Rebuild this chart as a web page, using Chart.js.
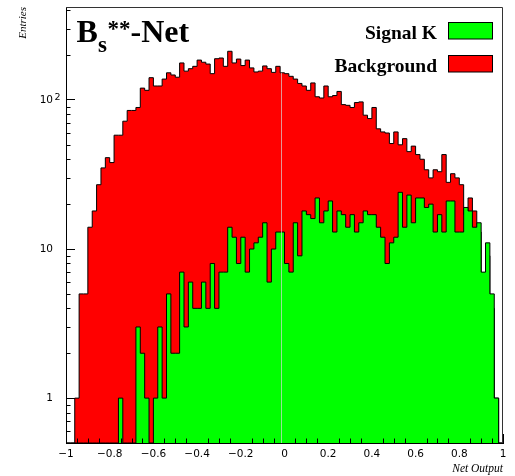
<!DOCTYPE html>
<html>
<head>
<meta charset="utf-8">
<script src="https://cdn.jsdelivr.net/npm/chart.js@4.4.1/dist/chart.umd.min.js"></script>
<style>
  html, body { margin: 0; padding: 0; background: #fff; }
</style>
</head>
<body>
<canvas id="chart" width="515" height="476"></canvas>
<script>
// 100 bins of width 0.02 from -1 to 1
const binLow = -1;
const binWidth = 0.02;

const signalK = [
  0, 0, 0, 0, 0, 0, 0, 0, 0, 0,
  0, 0, 1, 0, 0, 0, 3, 2, 1, 0,
  1, 3, 1, 5, 2, 2, 7, 3, 6, 4,
  4, 6, 4, 8, 4, 7, 7, 14, 12, 8,
  12, 7, 10, 11, 12, 15, 6, 10, 13, 13,
  8, 7, 15, 9, 18, 17, 16, 22, 15, 18,
  21, 13, 18, 17, 14, 17, 13, 15, 18, 17,
  17, 14, 12, 8, 11, 12, 24, 14, 23, 15,
  22, 22, 19, 20, 13, 17, 13, 21, 21, 13,
  13, 19, 18, 14, 15, 7, 11, 5, 1, 0
];

const background = [
  0, 0, 1, 5, 5, 14, 18, 27, 35, 41,
  38, 58, 58, 72, 85, 85, 89, 120, 116, 141,
  124, 124, 138, 152, 147, 142, 177, 156, 162, 168,
  185, 179, 174, 150, 189, 191, 168, 212, 177, 188,
  170, 185, 164, 154, 156, 169, 162, 153, 168, 152,
  150, 144, 138, 129, 124, 116, 130, 105, 103, 124,
  105, 107, 114, 93, 92, 89, 96, 97, 79, 75,
  89, 64, 61, 60, 51, 61, 50, 55, 45, 49,
  43, 40, 34, 30, 34, 33, 43, 28, 32, 30,
  27, 17, 22, 18, 13, 6, 9, 4, 1, 0
];

const seriesNames = ['Signal K', 'Background'];
const seriesColors = ['#00ff00', '#ff0000'];

const xTicks = [-1, -0.8, -0.6, -0.4, -0.2, 0, 0.2, 0.4, 0.6, 0.8, 1];
const xTickLabels = ['\u22121', '\u22120.8', '\u22120.6', '\u22120.4', '\u22120.2', '0', '0.2', '0.4', '0.6', '0.8', '1'];
const yTicks = [1, 10, 100];
const yTickLabels = ['1', '10', '10'];
const yTickExponents = ['', '', '2'];

const yMin = 0.5;
const yMax = 420;
const cutValue = -0.017; // thin line drawn on the plot

// histogram -> step points at bin left edges (+ closing right edge)
function toSteps(values) {
  const pts = values.map((v, i) => ({ x: binLow + i * binWidth, y: v > 0 ? v : yMin }));
  pts.push({ x: binLow + values.length * binWidth, y: pts[pts.length - 1].y });
  return pts;
}

// ROOT style extras: minor ticks, frame, title, legend, cut line
const rootStyle = {
  id: 'rootStyle',
  afterDatasetsDraw(chart) {
    const { ctx, chartArea: a, scales: { x, y } } = chart;
    const px = Math.round(x.getPixelForValue(cutValue)) + 0.5;
    const bin = Math.floor((cutValue - binLow) / binWidth);
    ctx.save();
    ctx.strokeStyle = 'rgba(215, 215, 215, 0.7)';
    ctx.lineWidth = 1;
    ctx.beginPath();
    ctx.moveTo(px, a.bottom);
    ctx.lineTo(px, y.getPixelForValue(background[bin]));
    ctx.stroke();
    ctx.restore();
  },
  afterDraw(chart) {
    const { ctx, chartArea: a, scales: { x, y } } = chart;
    ctx.save();
    ctx.strokeStyle = '#000';
    ctx.lineWidth = 1;
    ctx.beginPath();
    for (let k = 1; k < 40; k++) {
      if (k % 4 === 0) continue;
      const px = Math.round(x.getPixelForValue(-1 + k * 0.05)) + 0.5;
      ctx.moveTo(px, a.bottom);
      ctx.lineTo(px, a.bottom - 4.5);
    }
    for (let d = 0.1; d < yMax; d *= 10) {
      for (let m = 2; m <= 9; m++) {
        const v = d * m;
        if (v < yMin || v > yMax) continue;
        const py = Math.round(y.getPixelForValue(v)) + 0.5;
        ctx.moveTo(a.left, py);
        ctx.lineTo(a.left + 4.5, py);
      }
    }
    ctx.stroke();

    // exponents of the log labels (10^2)
    ctx.fillStyle = '#000';
    ctx.textAlign = 'left';
    ctx.textBaseline = 'alphabetic';
    ctx.font = '9.5px "DejaVu Sans"';
    yTicks.forEach((v, i) => {
      if (yTickExponents[i]) ctx.fillText(yTickExponents[i], a.left - 11.5, y.getPixelForValue(v));
    });

    // top + right frame
    ctx.strokeStyle = '#333';
    ctx.beginPath();
    ctx.moveTo(a.left, a.top + 0.5);
    ctx.lineTo(a.right - 0.5, a.top + 0.5);
    ctx.lineTo(a.right - 0.5, a.bottom);
    ctx.stroke();

    // title B_s^{**}-Net
    ctx.font = 'bold 32px "Liberation Serif"';
    ctx.fillText('B', 76.5, 41.5);
    ctx.fillText('-Net', 130.5, 41.5);
    ctx.font = 'bold 23px "Liberation Serif"';
    ctx.fillText('s', 98, 52);
    ctx.fillText('**', 107.5, 36);

    // legend: text, then box on the right
    ctx.font = 'bold 19.5px "Liberation Serif"';
    ctx.textAlign = 'right';
    chart.data.datasets.forEach((ds, i) => {
      const top = 22.5 + i * 33;
      ctx.fillStyle = '#000';
      ctx.fillText(ds.label, 437, top + 16.5);
      ctx.fillStyle = ds.backgroundColor;
      ctx.fillRect(448.5, top, 44, 16.5);
      ctx.strokeStyle = '#000';
      ctx.strokeRect(448.5, top, 44, 16.5);
    });
    ctx.restore();
  }
};

const ctx = document.getElementById('chart').getContext('2d');

new Chart(ctx, {
  type: 'line',
  data: {
    datasets: [signalK, background].map((vals, i) => ({
      label: seriesNames[i],
      data: toSteps(vals),
      borderColor: '#000',
      borderWidth: 1,
      backgroundColor: seriesColors[i],
      fill: 'start',
      stepped: true,
      pointRadius: 0,
      tension: 0,
    })),
  },
  options: {
    responsive: false,
    animation: false,
    devicePixelRatio: 1,
    layout: { padding: { top: 7, right: 12, bottom: 0, left: 0 } },
    plugins: {
      legend: { display: false },
      tooltip: { enabled: false },
    },
    scales: {
      x: {
        type: 'linear',
        min: -1,
        max: 1,
        z: 1,
        afterFit: (s) => { s.height = 33; s.paddingLeft = 0; s.paddingRight = 0; },
        afterBuildTicks: (s) => { s.ticks = xTicks.map((v) => ({ value: v })); },
        grid: { drawOnChartArea: false, tickLength: -9, tickColor: '#000', tickWidth: 1 },
        border: { color: '#000', width: 1 },
        ticks: {
          color: '#000',
          font: { family: 'DejaVu Sans', size: 10.5 },
          padding: 14,
          maxRotation: 0,
          autoSkip: false,
          callback: (v, i) => xTickLabels[i],
        },
        title: {
          display: true,
          text: 'Net Output',
          align: 'end',
          color: '#000',
          font: { family: 'Liberation Serif', style: 'italic', size: 11.5 },
          padding: { top: 0, bottom: 0 },
        },
      },
      y: {
        type: 'logarithmic',
        min: yMin,
        max: yMax,
        z: 1,
        afterFit: (s) => { s.width = 66; s.paddingTop = 0; s.paddingBottom = 0; },
        afterBuildTicks: (s) => { s.ticks = yTicks.map((v) => ({ value: v })); },
        grid: { drawOnChartArea: false, tickLength: -9, tickColor: '#000', tickWidth: 1 },
        border: { color: '#000', width: 1 },
        ticks: {
          color: '#000',
          font: { family: 'DejaVu Sans', size: 10.5 },
          padding: 22,
          autoSkip: false,
          callback: (v) => yTickLabels[yTicks.indexOf(v)],
        },
        title: {
          display: true,
          text: 'Entries',
          align: 'end',
          color: '#000',
          font: { family: 'Liberation Serif', style: 'italic', size: 11 },
          padding: { top: 17, bottom: 0 },
        },
      },
    },
  },
  plugins: [rootStyle],
});
</script>
</body>
</html>
